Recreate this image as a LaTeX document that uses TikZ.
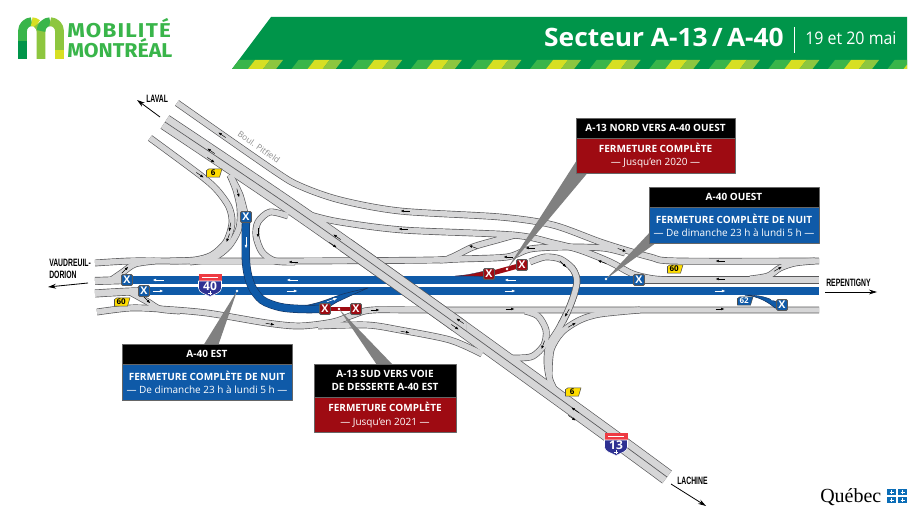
\documentclass[tikz,border=0pt]{standalone}
\usepackage{fontspec}
\usetikzlibrary{positioning,arrows.meta}
\setmainfont{Open Sans}
\newfontfamily\titlefont[FakeStretch=1.04]{Open Sans}
\newfontfamily\datefont[FakeStretch=0.92]{Open Sans}
\newfontfamily\logofont[FakeStretch=1.07]{Fira Sans}
\newfontfamily\logowide[FakeStretch=1.12,LetterSpace=6]{Fira Sans}
\newfontfamily\placefont[FakeStretch=0.64]{Liberation Sans}
\newfontfamily\quebecfont{Liberation Serif}
\definecolor{bandgreen}{HTML}{00954A}
\definecolor{logogreen}{HTML}{39B54A}
\definecolor{logolime}{HTML}{8DC63F}
\definecolor{logoyellow}{HTML}{D7DF23}
\definecolor{roadedge}{HTML}{58585A}
\definecolor{roadfill}{HTML}{D6D6D7}
\definecolor{closeblue}{HTML}{0F5AA8}
\definecolor{closeedge}{HTML}{16325C}
\definecolor{closered}{HTML}{9E0B12}
\definecolor{shieldblue}{HTML}{2E3192}
\definecolor{shieldred}{HTML}{EE3A43}
\definecolor{tagyellow}{HTML}{FFDD00}
\definecolor{quebecblue}{HTML}{0B6DB7}
\tikzset{
  headbox/.style={draw=black!60,fill=black,text=white,font=\bfseries\fontsize{7.5}{10}\selectfont,minimum width=127.5pt,inner sep=0pt,align=center},
  bodybox/.style={draw=black!60,text=white,font=\fontsize{7.5}{10}\selectfont,minimum width=127.5pt,inner sep=0pt,align=center},
  xblue/.style={draw=black!65,line width=.7pt,rounded corners=1pt,fill=closeblue,text=white,font=\bfseries\fontsize{8}{8}\selectfont,minimum size=8.2pt,inner sep=0pt},
  xred/.style={xblue,fill=closered},
  placelabel/.style={font=\placefont\bfseries\fontsize{8}{9}\selectfont,align=left},
  dirarrow/.style={line width=.6pt,-{Stealth[length=6pt,width=3.6pt]}},
  pointer/.style={fill=black!50,draw=none},
  dot/.style={circle,fill=white,minimum size=2.2pt,inner sep=0pt},
  flecha/.style={black,line width=.35pt,-{Latex[length=2.6pt,width=2pt]}},
  wflecha/.style={white,line width=.45pt,-{Latex[length=2.8pt,width=2.2pt]}},
  blueroad/.style={draw=closeedge,line width=6.2pt,line cap=butt},
  bluein/.style={draw=closeblue,line width=5.4pt},
}
\newcommand{\roadnet}{
\draw[wide] plot[smooth,tension=.5] coordinates {(165,122) (300,213) (455,323) (607,433) (667,477)};
\draw[ramp] plot[smooth,tension=.5] coordinates {(177,103) (273,170) (300,186) (340,200) (400,211) (500,217) (553,225) (603,243) (650,257) (677,261) (819,261)};
\draw[ramp] plot[smooth,tension=.5] coordinates {(285,207) (310,215) (340,222) (403,230) (513,235) (553,243) (580,250) (610,262) (633,274) (655,279) (680,280)};
\draw[ramp] plot[smooth,tension=.5] coordinates {(150,138) (200,175) (217,190) (229,207) (232,223) (226,242) (212,255) (195,260) (170,261)};
\draw[ramp] plot[smooth,tension=.5] coordinates {(95,263) (130,261) (170,261) (300,261) (433,260) (450,258) (473,247) (497,240) (515,235)};
\draw[ramp] plot[smooth,tension=.5] coordinates {(440,260) (460,259) (507,257) (530,249) (563,247) (603,248) (625,253)};
\draw[ramp] plot[smooth,tension=.5] coordinates {(230,175) (236,190) (240,208) (239,228) (229,246) (213,258) (190,262)};
\draw[ramp] plot[smooth,tension=.5] coordinates {(230,175) (240,195) (246,218)};
\draw[ramp] plot[smooth,tension=.5] coordinates {(288,216) (270,212) (258,222) (256,236) (262,252) (275,261) (295,262)};
\draw[mainroad] (95,281) -- (127,280);
\draw[ramp] plot[smooth,tension=.5] coordinates {(110,281) (123,272) (135,264) (155,261)};
\draw[mainroad] plot[smooth,tension=.5] coordinates {(95,293.5) (120,292) (144,291)};
\draw[ramp] plot[smooth,tension=.5] coordinates {(130,292) (148,302) (160,309) (180,311)};
\draw[ramp] plot[smooth,tension=.5] coordinates {(97,312) (130,308) (160,309) (207,313) (267,323) (300,326) (333,322) (353,315) (373,310) (440,310) (819,310)};
\draw[ramp] plot[smooth,tension=.5] coordinates {(318,326) (367,325) (400,330) (450,340) (482,354)};
\draw[ramp] plot[smooth,tension=.5] coordinates {(525,311) (538,316) (546,330) (544,345) (533,356) (520,358) (500,358)};
\draw[ramp] plot[smooth,tension=.5] coordinates {(549,376) (551,350) (562,332) (580,320) (600,314) (640,310)};
\draw[ramp] plot[smooth,tension=.5] coordinates {(572,408) (558,395) (550,380) (547,362) (549,345) (558,330) (567,313) (574,295) (577,280) (572,268) (560,259) (545,257) (530,262)};
\draw[mainroad] (639,280) -- (819,280);
\draw[ramp] plot[smooth,tension=.5] coordinates {(750,279) (768,276) (780,268) (795,263) (815,261)};
}
\newcommand{\routetag}[5]{\begin{scope}[shift={(#2)}]
\draw[fill=#3,draw=black!70,line width=.4pt] (-7.5,-2.5) -- (-5,-4.2) -- (8,-4.2) -- (5.5,4.2) -- (-7.5,4.2) -- cycle;
\node[text=#4,font=\bfseries\fontsize{6}{6}\selectfont,inner sep=0pt] (#1) at (-.8,0) {#5};
\end{scope}}
\newcommand{\shield}[3]{\begin{scope}[shift={(#2)}]
\fill[shieldred] (-11.5,-11) rectangle (11.5,-3.5);
\fill[white] (-8,-8) rectangle (8,-6.6);
\draw[fill=shieldblue,draw=white,line width=.4pt] (-11.5,-4) -- (11.5,-4) -- (11.5,3) .. controls (11.5,8) and (4,9) .. (0,11.5) .. controls (-4,9) and (-11.5,8) .. (-11.5,3) -- cycle;
\node[text=white,font=\bfseries\fontsize{9}{9}\selectfont,inner sep=0pt] (#1) at (0,1) {#3};
\draw[white,line width=.6pt] (-2.2,8) -- (2.2,8) (0,6) -- (0,10);
\end{scope}}
\begin{document}
\begin{tikzpicture}[x=.75pt,y=-.75pt,line join=round]
\useasboundingbox (0,0) rectangle (924,520);
\fill[white] (0,0) rectangle (924,520);

\fill[bandgreen] (271,17) -- (907,17) -- (907,69) -- (232,69) -- cycle;
\begin{scope}
\clip (271,17) -- (907,17) -- (907,69) -- (232,69) -- cycle;
\foreach \k in {0,...,11} {
  \pgfmathsetmacro{\xs}{232+59.6*\k}
  \fill[logogreen] (\xs,69) -- (\xs+16,69) -- (\xs+23,60) -- (\xs+7,60) -- cycle;
  \fill[logoyellow] (\xs+16,69) -- (\xs+31,69) -- (\xs+38,60) -- (\xs+23,60) -- cycle;
  \fill[logolime] (\xs+31,69) -- (\xs+44,69) -- (\xs+51,60) -- (\xs+38,60) -- cycle;
}
\end{scope}
\node[font=\titlefont\bfseries\fontsize{19}{19}\selectfont,text=white,anchor=base east,inner sep=0pt] (title) at (784,47) {Secteur A-13\,/\,A-40};
\draw[white,line width=.6pt] (794,27) -- (794,53);
\node[font=\datefont\fontsize{13}{13}\selectfont,text=white,anchor=base west,inner sep=0pt] (dates) at (805,45) {19 et 20 mai};

\draw[logogreen,line width=6.6pt] (22.5,41) -- (22.5,31) .. controls (22.5,25.9) and (26.7,21.7) .. (31.7,21.7);
\draw[bandgreen,line width=6.6pt] (22.5,59) -- (22.5,41);
\draw[logoyellow,line width=6.6pt] (31.7,21.7) .. controls (34,21.7) and (36,22.6) .. (37.5,24);
\draw[logolime,line width=6.6pt] (37.5,24) .. controls (39.6,26) and (41,28.3) .. (41,31) -- (41,59);
\draw[logogreen,line width=6.6pt] (41,31) .. controls (41,25.9) and (45.2,21.7) .. (50.2,21.7);
\draw[logolime,line width=6.6pt] (50.2,21.7) .. controls (55.3,21.7) and (59.5,25.9) .. (59.5,31) -- (59.5,50);
\draw[logoyellow,line width=6.6pt] (59.5,50) -- (59.5,59);
\node[font=\logowide\bfseries\fontsize{15}{15}\selectfont,text=logogreen,anchor=base west,inner sep=0pt] (mobilite) at (67,38) {MOBILITÉ};
\node[font=\logofont\bfseries\fontsize{15}{15}\selectfont,text=logogreen,anchor=base west,inner sep=0pt] (montreal) at (67,58) {MONTRÉAL};

\begin{scope}[wide/.style={draw=roadedge,line width=12pt},ramp/.style={draw=roadedge,line width=5.1pt},mainroad/.style={draw=roadedge,line width=6pt}]
\roadnet
\end{scope}
\begin{scope}[wide/.style={draw=roadfill,line width=11pt},ramp/.style={draw=roadfill,line width=4.1pt},mainroad/.style={draw=roadfill,line width=5pt}]
\roadnet
\end{scope}
\draw[roadedge,line width=.5pt] plot[smooth,tension=.5] coordinates {(165,122) (300,213) (455,323) (607,433) (667,477)};

\draw[blueroad] (127,280) -- (639,280);
\draw[blueroad] (144,291) -- (819,291);
\draw[bluein] (127,280) -- (639,280);
\draw[bluein] (144,291) -- (819,291);
\fill[closeblue,draw=closeedge,line width=.4pt] plot[smooth,tension=.5] coordinates {(300,307) (320,302) (343,294) (368,288)} -- (352,295) -- (337,302) -- (322,311) -- (300,312) -- cycle;
\draw[blueroad] plot[smooth,tension=.5] coordinates {(246,217) (246,262) (251,285) (262,300) (280,307) (300,309) (325,309)};
\draw[bluein] plot[smooth,tension=.5] coordinates {(246,217) (246,262) (251,285) (262,300) (280,307) (300,309) (325,309)};
\fill[closeblue,draw=closeedge,line width=.4pt] (745,295.2) .. controls (757,295) and (770,296) .. (785,308) -- (775,308) .. controls (768,302) and (758,296) .. (745,295.2) -- cycle;
\fill[closered,draw=closeedge,line width=.2pt] (455,276) .. controls (470,275) and (480,272) .. (492,269) -- (492,277) .. controls (480,276) and (470,276) .. (455,276) -- cycle;
\draw[closered,line width=3.6pt] (489,274) -- (522,265);
\draw[closered,line width=3.6pt] (325,309) -- (356,309);

\begin{scope}
\clip (340,240) rectangle (466,330);
\draw[roadedge,line width=12pt] plot[smooth,tension=.5] coordinates {(165,122) (300,213) (455,323) (607,433) (667,477)};
\draw[roadfill,line width=11pt] plot[smooth,tension=.5] coordinates {(165,122) (300,213) (455,323) (607,433) (667,477)};
\draw[roadedge,line width=.5pt] plot[smooth,tension=.5] coordinates {(165,122) (300,213) (455,323) (607,433) (667,477)};
\end{scope}
\begin{scope}
\clip (550,266) rectangle (600,322);
\draw[roadedge,line width=5.1pt] plot[smooth,tension=.5] coordinates {(572,408) (558,395) (550,380) (547,362) (549,345) (558,330) (567,313) (574,295) (577,280) (572,268) (560,259) (545,257) (530,262)};
\draw[roadfill,line width=4.1pt] plot[smooth,tension=.5] coordinates {(572,408) (558,395) (550,380) (547,362) (549,345) (558,330) (567,313) (574,295) (577,280) (572,268) (560,259) (545,257) (530,262)};
\end{scope}

\foreach \x/\y/\a in {222/135/215,211/151/215,211/160/35,337/237/215,333/245/35,460/321/215,455/327/35,575/410/215,572/418/35,200/175/35,230/227/100,228/238/110,238/193/75,258/233/90,293/262/180,270/324/10,375/310/0,510/309/0,405/332/10,405/211/180,403/229/180,473/247/200,530/248/180,622/250/20,602/262/200,508/257/180,563/264/45,543/345/110,567/313/120,572/325/330,720/279/180,720/309/0,720/261/180,778/269/330,125/270/315,147/300/45}
  \draw[flecha] ([shift={(\a:-4.5)}]\x,\y) -- ([shift={(\a:4.5)}]\x,\y);
\foreach \x/\y/\a in {158/280/180,292/280/180,510/280/180,158/291/0,292/291/0,510/291/0,720/291/0,246/243/90,332/300/340,770/298/30}
  \draw[wflecha] ([shift={(\a:-5.5)}]\x,\y) -- ([shift={(\a:5.5)}]\x,\y);

\node[font=\fontsize{6.2}{6.2}\selectfont,text=black!45,rotate=-35,inner sep=0pt] (pitfield) at (259,147) {Boul. Pitfield};

\path[pointer] (237,291) -- (203,346) -- (218,346) -- cycle;
\path[pointer] (339,309) -- (377,365) -- (393,365) -- cycle;
\path[pointer] (507,269) -- (577,160) -- (590,170) -- cycle;
\path[pointer] (606,279) -- (652,230) -- (660,240) -- cycle;
\node[dot] (dotEst) at (237,291) {};
\node[dot] (dotSud) at (339,309) {};
\node[dot] (dotNord) at (507,269) {};
\node[dot] (dotOuest) at (606,279) {};

\node[xblue] (xa) at (127,280) {X};
\node[xblue] (xb) at (144,291) {X};
\node[xblue] (xc) at (246,217) {X};
\node[xblue] (xd) at (639,280) {X};
\node[xblue] (xe) at (782,305) {X};
\node[xred] (xf) at (325,309) {X};
\node[xred] (xg) at (356,309) {X};
\node[xred] (xh) at (489,274) {X};
\node[xred] (xi) at (522,265) {X};

\routetag{tagA}{214,173}{tagyellow}{black}{6}
\routetag{tagB}{122,302}{tagyellow}{black}{60}
\routetag{tagC}{675,269}{tagyellow}{black}{60}
\routetag{tagD}{573,392}{tagyellow}{black}{6}
\routetag{tagE}{745,301}{closeblue}{white}{62}
\shield{shieldA}{210,285}{40}
\shield{shieldB}{616,444}{13}

\node[headbox,minimum height=15pt] (estHead) at (207,354) {A-40 EST};
\node[bodybox,fill=closeblue,minimum height=27pt,below=0pt of estHead] (estBody) {\textbf{FERMETURE COMPLÈTE DE NUIT}\\— De dimanche 23 h à lundi 5 h —};
\node[headbox,minimum height=15pt] (ouestHead) at (734,197) {A-40 OUEST};
\node[bodybox,fill=closeblue,minimum height=27pt,below=0pt of ouestHead] (ouestBody) {\textbf{FERMETURE COMPLÈTE DE NUIT}\\— De dimanche 23 h à lundi 5 h —};
\node[headbox,minimum height=15pt,minimum width=119pt] (nordHead) at (655.5,128) {A-13 NORD VERS A-40 OUEST};
\node[bodybox,fill=closered,minimum height=26pt,minimum width=119pt,below=0pt of nordHead] (nordBody) {\textbf{FERMETURE COMPLÈTE}\\— Jusqu'en 2020 —};
\node[headbox,minimum height=25pt,minimum width=106.5pt] (sudHead) at (385,380.5) {A-13 SUD VERS VOIE\\DE DESSERTE A-40 EST};
\node[bodybox,fill=closered,minimum height=26pt,minimum width=106.5pt,below=0pt of sudHead] (sudBody) {\textbf{FERMETURE COMPLÈTE}\\— Jusqu'en 2021 —};

\node[placelabel,anchor=west,inner sep=0pt] (laval) at (146,99) {LAVAL};
\node[placelabel,anchor=west,inner sep=0pt] (vaudreuil) at (49,269) {VAUDREUIL-\\DORION};
\node[placelabel,anchor=west,inner sep=0pt] (repentigny) at (826,283) {REPENTIGNY};
\node[placelabel,anchor=west,inner sep=0pt] (lachine) at (677,481) {LACHINE};
\coordinate (lavalA) at (160,117);
\coordinate (lavalB) at (137,100);
\coordinate (vaudA) at (88,283);
\coordinate (vaudB) at (48,287);
\coordinate (repA) at (825,292);
\coordinate (repB) at (877,292);
\coordinate (lachA) at (671,484);
\coordinate (lachB) at (706,506);
\draw[dirarrow] (lavalA) -- (lavalB);
\draw[dirarrow] (vaudA) -- (vaudB);
\draw[dirarrow] (repA) -- (repB);
\draw[dirarrow] (lachA) -- (lachB);

\node[font=\quebecfont\fontsize{15}{15}\selectfont,anchor=base west,inner sep=0pt] (quebec) at (820,502) {Québec};
\foreach \x/\y in {887/489,898/489,887/497,898/497} {
  \fill[quebecblue] (\x,\y) rectangle (\x+9,\y+6);
  \draw[white,line width=.5pt] (\x+2.5,\y+3) -- (\x+6.5,\y+3) (\x+4.5,\y+1) -- (\x+4.5,\y+5);
}
\end{tikzpicture}
\end{document}
